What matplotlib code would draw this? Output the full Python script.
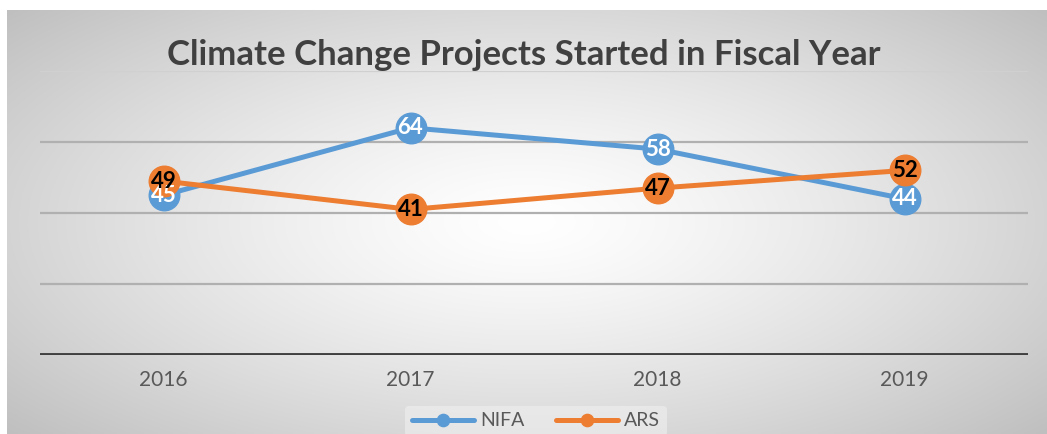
import numpy as np
import matplotlib
matplotlib.use("Agg")
import matplotlib.pyplot as plt

years = ["2016", "2017", "2018", "2019"]
nifa = [45, 64, 58, 44]
ars = [49, 41, 47, 52]
title = "Climate Change Projects Started in Fiscal Year"
yticks = [0, 20, 40, 60, 80]

W, H = 1047, 434
fig = plt.figure(figsize=(W / 100, H / 100), dpi=100)
fig.patch.set_facecolor("white")

# background gradient
bg = fig.add_axes([7 / W, 0, 1 - 7 / W, 1 - 10 / H])
bg.set_axis_off()
nx, ny = 400, 200
xx, yy = np.meshgrid(np.linspace(-1, 1, nx), np.linspace(-1, 1, ny))
r = np.sqrt((xx / 1.0) ** 2 + (yy / 1.1) ** 2)
r = np.clip(r / 1.35, 0, 1)
val = 1.0 - 0.25 * r ** 1.3
img = np.dstack([val, val, val])
bg.imshow(img, aspect="auto", extent=[0, 1, 0, 1], interpolation="bilinear")
bg.set_xlim(0, 1)
bg.set_ylim(0, 1)

ax = fig.add_axes([40 / W, 1 - 355 / H, (1028 - 40) / W, (355 - 71) / H])
ax.patch.set_alpha(0)
x = np.arange(len(years))
ax.set_xlim(-0.5, len(years) - 0.5)
ax.set_ylim(0, 80)
for t in yticks[1:]:
    ax.axhline(t, color="#b0b0b0" if t < 80 else "#d0d0d0", lw=1.6, zorder=1)
ax.axhline(0, color="#404040", lw=2.8, zorder=2)
for s in ax.spines.values():
    s.set_visible(False)
ax.set_yticks([])
ax.set_xticks(x)
ax.set_xticklabels(years, fontsize=15, color="#595959", family="Lato")
ax.tick_params(axis="x", length=0, pad=11)

c_n = "#5B9BD5"
c_a = "#ED7D31"
ax.plot(x, nifa, color=c_n, lw=3.6, marker="o", ms=22, label="NIFA", zorder=3,
        solid_capstyle="round")
ax.plot(x, ars, color=c_a, lw=3.6, marker="o", ms=22, label="ARS", zorder=4,
        solid_capstyle="round")
for xi, v in zip(x, nifa):
    ax.text(xi, v, str(v), ha="center", va="center", color="white",
            fontsize=16, fontweight="bold", family="Lato", zorder=5)
for xi, v in zip(x, ars):
    ax.text(xi, v, str(v), ha="center", va="center", color="black",
            fontsize=16, fontweight="bold", family="Lato", zorder=6)

fig.text(0.5, 1 - 55 / H, title, ha="center", va="center", fontsize=25,
         fontweight="bold", color="#404040", family="Lato")

leg = fig.legend(loc="center", bbox_to_anchor=(536 / W, 1 - 421 / H), ncol=2,
                 frameon=True, handlelength=3.2, markerscale=0.4,
                 columnspacing=1.6, handletextpad=0.3, borderpad=0.35,
                 prop={"family": "Lato", "size": 14})
leg.get_frame().set_facecolor("#f0f0f0")
leg.get_frame().set_edgecolor("none")
leg.get_frame().set_alpha(0.6)
for t in leg.get_texts():
    t.set_color("#595959")

fig.savefig("out.png", dpi=100)
